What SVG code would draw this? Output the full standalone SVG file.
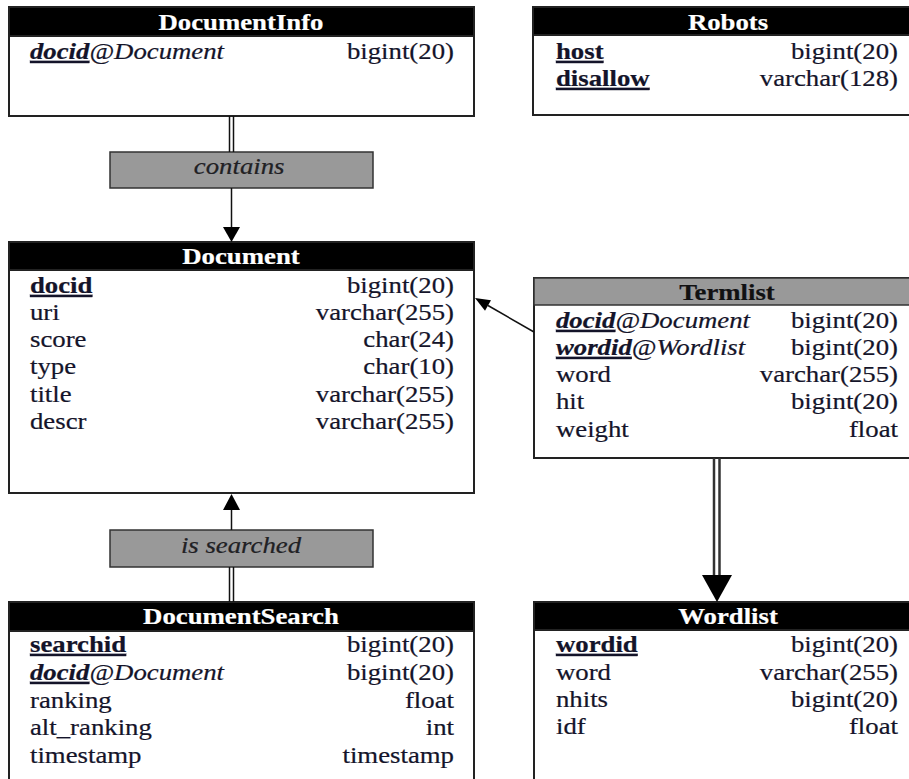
<svg xmlns="http://www.w3.org/2000/svg" width="909" height="779" viewBox="0 0 909 779" font-family="'Liberation Serif', 'Times New Roman', Times, serif">
<style>
.box{fill:#fff;stroke:#222;stroke-width:2}
.hdr{fill:#000;stroke:#222;stroke-width:2}
.ghdr{fill:#999;stroke:#333;stroke-width:1.5}
.rel{fill:#999;stroke:#333;stroke-width:1.5}
text{font-size:22.5px;fill:#14142a;stroke:#14142a;stroke-width:0.2}
.h{font-weight:bold;text-anchor:middle;fill:#fff;stroke:#fff}
.hb{font-weight:bold;text-anchor:middle;fill:#111}
.r{text-anchor:end}
.k{font-weight:bold;text-decoration:underline}
.fk{font-weight:bold;font-style:italic;text-decoration:underline}
.it{font-style:italic}
.rt{font-style:italic;text-anchor:middle;fill:#222}
.ln{stroke:#111;stroke-width:1.5;fill:none}
.tk{stroke:#333;stroke-width:2.5;fill:none}
.ah{fill:#000}
</style>
<g id="DocumentInfo">
<rect class="box" x="9" y="7" width="465" height="109"/>
<rect class="hdr" x="9" y="7" width="465" height="29"/>
<g transform="scale(1.19 1)">
<text class="h" x="202.5" y="30">DocumentInfo</text>
<text x="25.2" y="59"><tspan class="fk">docid</tspan><tspan class="it">@Document</tspan></text>
<text class="r" x="381.5" y="59">bigint(20)</text>
</g>
</g>
<g id="Robots">
<rect class="box" x="533" y="7" width="382" height="108"/>
<rect class="hdr" x="533" y="7" width="382" height="28"/>
<g transform="scale(1.19 1)">
<text class="h" x="611.8" y="30">Robots</text>
<text x="467.2" y="59"><tspan class="k">host</tspan></text>
<text class="r" x="754.6" y="59">bigint(20)</text>
<text x="467.2" y="86"><tspan class="k">disallow</tspan></text>
<text class="r" x="754.6" y="86">varchar(128)</text>
</g>
</g>
<g id="contains">
<rect class="rel" x="110" y="152" width="263" height="36"/>
<g transform="scale(1.19 1)">
<text class="rt" x="201" y="174">contains</text>
</g>
</g>
<g id="Document">
<rect class="box" x="9" y="242" width="465" height="251"/>
<rect class="hdr" x="9" y="242" width="465" height="28"/>
<g transform="scale(1.19 1)">
<text class="h" x="202.5" y="264">Document</text>
<text x="25.2" y="293"><tspan class="k">docid</tspan></text>
<text class="r" x="381.5" y="293">bigint(20)</text>
<text x="25.2" y="320">uri</text>
<text class="r" x="381.5" y="320">varchar(255)</text>
<text x="25.2" y="347">score</text>
<text class="r" x="381.5" y="347">char(24)</text>
<text x="25.2" y="374">type</text>
<text class="r" x="381.5" y="374">char(10)</text>
<text x="25.2" y="402">title</text>
<text class="r" x="381.5" y="402">varchar(255)</text>
<text x="25.2" y="429">descr</text>
<text class="r" x="381.5" y="429">varchar(255)</text>
</g>
</g>
<g id="Termlist">
<rect class="box" x="534" y="278" width="380" height="180"/>
<rect class="ghdr" x="534" y="278" width="380" height="27"/>
<g transform="scale(1.19 1)">
<text class="hb" x="610.9" y="300">Termlist</text>
<text x="467.2" y="328"><tspan class="fk">docid</tspan><tspan class="it">@Document</tspan></text>
<text class="r" x="754.6" y="328">bigint(20)</text>
<text x="467.2" y="355"><tspan class="fk">wordid</tspan><tspan class="it">@Wordlist</tspan></text>
<text class="r" x="754.6" y="355">bigint(20)</text>
<text x="467.2" y="382">word</text>
<text class="r" x="754.6" y="382">varchar(255)</text>
<text x="467.2" y="409">hit</text>
<text class="r" x="754.6" y="409">bigint(20)</text>
<text x="467.2" y="437">weight</text>
<text class="r" x="754.6" y="437">float</text>
</g>
</g>
<g id="is_searched">
<rect class="rel" x="110" y="530" width="263" height="37"/>
<g transform="scale(1.19 1)">
<text class="rt" x="202.5" y="553">is searched</text>
</g>
</g>
<g id="DocumentSearch">
<rect class="box" x="9" y="602" width="465" height="200"/>
<rect class="hdr" x="9" y="602" width="465" height="29"/>
<g transform="scale(1.19 1)">
<text class="h" x="202.5" y="624">DocumentSearch</text>
<text x="25.2" y="652"><tspan class="k">searchid</tspan></text>
<text class="r" x="381.5" y="652">bigint(20)</text>
<text x="25.2" y="680"><tspan class="fk">docid</tspan><tspan class="it">@Document</tspan></text>
<text class="r" x="381.5" y="680">bigint(20)</text>
<text x="25.2" y="708">ranking</text>
<text class="r" x="381.5" y="708">float</text>
<text x="25.2" y="735">alt_ranking</text>
<text class="r" x="381.5" y="735">int</text>
<text x="25.2" y="763">timestamp</text>
<text class="r" x="381.5" y="763">timestamp</text>
</g>
</g>
<g id="Wordlist">
<rect class="box" x="534" y="602" width="380" height="200"/>
<rect class="hdr" x="534" y="602" width="380" height="28"/>
<g transform="scale(1.19 1)">
<text class="h" x="611.8" y="624">Wordlist</text>
<text x="467.2" y="652"><tspan class="k">wordid</tspan></text>
<text class="r" x="754.6" y="652">bigint(20)</text>
<text x="467.2" y="680">word</text>
<text class="r" x="754.6" y="680">varchar(255)</text>
<text x="467.2" y="707">nhits</text>
<text class="r" x="754.6" y="707">bigint(20)</text>
<text x="467.2" y="734">idf</text>
<text class="r" x="754.6" y="734">float</text>
</g>
</g>
<g id="connectors">
<line class="ln" x1="229.5" y1="116" x2="229.5" y2="152"/>
<line class="ln" x1="233.5" y1="116" x2="233.5" y2="152"/>
<line class="ln" x1="231.5" y1="188" x2="231.5" y2="228"/>
<polygon class="ah" points="223,227 240,227 231.5,242"/>
<line class="ln" x1="231.5" y1="530" x2="231.5" y2="509"/>
<polygon class="ah" points="223,510 240,510 231.5,494"/>
<line class="ln" x1="229.5" y1="567" x2="229.5" y2="602"/>
<line class="ln" x1="233.5" y1="567" x2="233.5" y2="602"/>
<line class="ln" x1="534" y1="332" x2="488" y2="305.5"/>
<polygon class="ah" points="475,298 491,300.3 485,310.7"/>
<line class="tk" x1="714" y1="458" x2="714" y2="577"/>
<line class="tk" x1="719.5" y1="458" x2="719.5" y2="577"/>
<polygon class="ah" points="702,575 732,575 717,602"/>
</g>
</svg>
